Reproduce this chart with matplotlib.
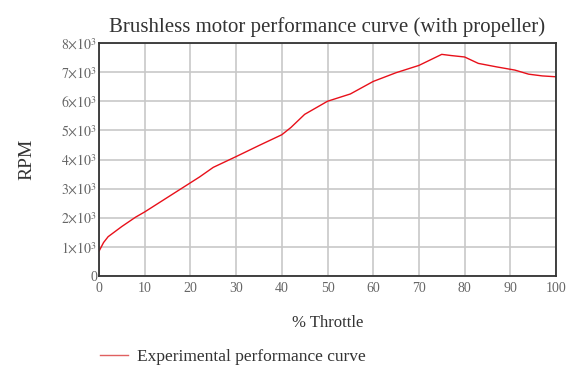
import matplotlib
matplotlib.use("Agg")
import matplotlib.pyplot as plt
from matplotlib.lines import Line2D

throttle = [0, 1, 2, 5, 8, 10, 15, 20, 22, 25, 30, 35, 40, 42, 45, 50, 55, 60, 65, 70, 75, 77, 80, 83, 87, 91, 94, 97, 100]
rpm = [850, 1150, 1350, 1700, 2020, 2200, 2700, 3200, 3400, 3730, 4100, 4480, 4850, 5100, 5550, 6000, 6250, 6680, 6980, 7230, 7610, 7570, 7520, 7300, 7180, 7070, 6930, 6870, 6840]
yticks = [0, 1000, 2000, 3000, 4000, 5000, 6000, 7000, 8000]
ytick_labels = ["0"] + [r"$%d{\times}10^{3}$" % k for k in range(1, 9)]
xticks = list(range(0, 101, 10))

plt.rcParams['font.family'] = ['Liberation Serif', 'DejaVu Serif']
plt.rcParams['mathtext.fontset'] = 'stix'

fig = plt.figure(figsize=(5.68, 3.67), dpi=100)
ax = fig.add_axes([99/568, 1-276/367, (556-99)/568, (276-43)/367])
ax.plot(throttle, rpm, color='#e8101a', lw=1.0)
ax.set_xlim(0, 100)
ax.set_ylim(0, 8000)
ax.set_xticks(xticks)
ax.set_xticklabels([str(v) for v in xticks])
ax.set_yticks(yticks)
ax.set_yticklabels(ytick_labels)
ax.grid(True, color='#c8c8c8', lw=1.2)
ax.set_axisbelow(True)
for s in ax.spines.values():
    s.set_color('#333333')
    s.set_linewidth(1.3)
ax.tick_params(axis='x', length=0, pad=4, labelsize=10, labelcolor='#666666')
ax.tick_params(axis='y', length=0, pad=1.5, labelsize=10, labelcolor='#666666')
ax.set_title("Brushless motor performance curve (with propeller)", fontsize=15, color='#333333', pad=8)
ax.set_xlabel("% Throttle", fontsize=12, color='#333333', labelpad=15)
ax.set_ylabel("RPM", fontsize=14, color='#333333', labelpad=18)

handle = Line2D([], [], color='#e06060', lw=1.0)
fig.legend([handle], ["Experimental performance curve"], loc='center left',
           bbox_to_anchor=(84/568, 1-357/367), frameon=False, fontsize=12.5,
           handlelength=1.65, handletextpad=0.5, labelcolor='#333333')

fig.savefig("out.png", dpi=100)
